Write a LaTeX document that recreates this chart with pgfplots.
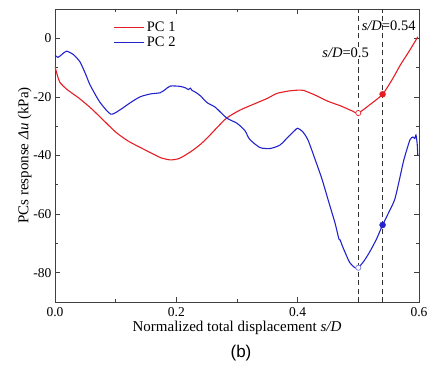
\documentclass[border=0pt]{standalone}
\usepackage{fontspec}
\setmainfont{Liberation Serif}
\newfontfamily\sansb{Liberation Sans}
\usepackage{pgfplots}
\pgfplotsset{compat=1.18}
\definecolor{pcred}{RGB}{228,30,36}
\definecolor{pcblue}{RGB}{35,35,205}
\begin{document}
\begin{tikzpicture}
\begin{axis}[
  name=ax,
  scale only axis, width=364pt, height=293pt,
  xmin=0, xmax=0.6, ymin=-90, ymax=10,
  xtick={0,0.2,0.4,0.6}, ytick={-80,-60,-40,-20,0},
  minor tick num=1,
  tick align=inside,
  major tick length=5pt, minor tick length=3pt,
  axis line style={line width=0.9pt, black!75},
  tick style={line width=0.8pt, black!75},
  /pgf/number format/assume math mode=true,
  xticklabel style={/pgf/number format/fixed, /pgf/number format/fixed zerofill, /pgf/number format/precision=1, yshift=-2pt},
  ticklabel style={font=\fontsize{13.5}{15}\selectfont},
  label style={font=\fontsize{15}{17}\selectfont},
  xlabel={Normalized total displacement \textit{s/D}},
  ylabel={PCs response \textit{Δu} (kPa)},
  xlabel style={yshift=2pt},
  ylabel style={yshift=-5pt},
  legend style={draw=none, fill=none, at={(axis cs:0.095,6.6)}, anchor=north west,
    font=\fontsize{14.5}{16}\selectfont, row sep=0pt, inner sep=1pt},
  legend cell align=left,
  legend image code/.code={\draw[#1] (0pt,0pt) -- (30pt,0pt);},
]
\addplot[pcred, line width=1.1pt, smooth, tension=0.4] coordinates {
(0.000,-9.5) (0.003,-12) (0.008,-15) (0.02,-17.5) (0.04,-20.5) (0.06,-24)
(0.08,-28) (0.10,-32) (0.12,-35) (0.14,-37.2) (0.16,-39.3) (0.175,-40.8)
(0.19,-41.5) (0.205,-41) (0.223,-38.8) (0.238,-36.5) (0.251,-34) (0.267,-30.5)
(0.283,-27.2) (0.305,-24.5) (0.333,-22) (0.35,-20.5) (0.366,-18.8) (0.385,-18)
(0.40,-17.7) (0.41,-17.8) (0.43,-19.5) (0.45,-21.5) (0.47,-23) (0.49,-24.8)
(0.50,-25.5) (0.52,-22.5) (0.54,-19.1) (0.556,-14) (0.569,-9.2) (0.585,-4)
(0.598,0.5)
};
\addlegendentry{PC 1}
\addplot[pcblue, line width=1.1pt, smooth, tension=0.4] coordinates {
(0.000,-5.8) (0.005,-6.5) (0.012,-5.4) (0.019,-4.4) (0.03,-5.5) (0.041,-8)
(0.05,-12) (0.058,-16) (0.074,-21.8) (0.092,-25.9) (0.108,-24.3) (0.124,-22)
(0.14,-20) (0.157,-19) (0.173,-18.6) (0.181,-17.6) (0.19,-16.3) (0.206,-16.4)
(0.215,-16.9) (0.22,-17.5) (0.223,-17) (0.226,-17.8) (0.23,-18.2) (0.239,-19.5)
(0.251,-22) (0.264,-23.5) (0.283,-27.2) (0.30,-29) (0.313,-31.5) (0.321,-34.5)
(0.338,-37.3) (0.355,-37.6) (0.371,-36.4) (0.385,-33.5) (0.396,-31.3) (0.40,-30.7)
(0.408,-31.8) (0.417,-34.7) (0.429,-41.5) (0.44,-48) (0.45,-55) (0.4615,-63)
(0.468,-68.5) (0.470,-68.8) (0.473,-70.5) (0.478,-73) (0.486,-76.6) (0.4945,-78.3)
(0.50,-78.3) (0.51,-75.8) (0.519,-72.8) (0.53,-68.5) (0.54,-63.7) (0.55,-59.5)
(0.56,-55) (0.568,-48) (0.575,-41.5) (0.585,-34.7) (0.59,-33.7) (0.593,-34.2)
(0.595,-33) (0.597,-36) (0.598,-40)
};
\addlegendentry{PC 2}
\addplot[black!80, dash pattern=on 5pt off 3.5pt, line width=0.9pt, forget plot] coordinates {(0.5,-90) (0.5,10)};
\addplot[black!80, dash pattern=on 5pt off 3.5pt, line width=0.9pt, forget plot] coordinates {(0.54,-90) (0.54,10)};
\addplot[only marks, mark=*, mark size=2.6pt, mark options={draw=pcred, fill=white, line width=0.7pt}, forget plot] coordinates {(0.5,-25.5)};
\addplot[only marks, mark=*, mark size=2.6pt, mark options={draw=pcblue!60, fill=white, line width=0.7pt}, forget plot] coordinates {(0.5,-78.3)};
\addplot[only marks, mark=*, mark size=3pt, mark options={draw=pcred, fill=pcred}, forget plot] coordinates {(0.54,-19.1)};
\addplot[only marks, mark=*, mark size=3pt, mark options={draw=pcblue, fill=pcblue}, forget plot] coordinates {(0.54,-63.7)};
\node[font=\fontsize{14.5}{16}\selectfont, fill=white, inner sep=0.5pt] at (axis cs:0.479,-4.8) {\textit{s/D}=0.5};
\node[font=\fontsize{14.5}{16}\selectfont, inner sep=0.5pt] at (axis cs:0.55,4.4) {\textit{s/D}=0.54};
\end{axis}
\node[font=\sansb\fontsize{17}{19}\selectfont] at ([xshift=4pt,yshift=-51pt]ax.south) {(b)};
\pgfresetboundingbox
\path ([xshift=-55pt,yshift=-68pt]ax.south west) rectangle ([xshift=11pt,yshift=9pt]ax.north east);
\end{tikzpicture}
\end{document}
